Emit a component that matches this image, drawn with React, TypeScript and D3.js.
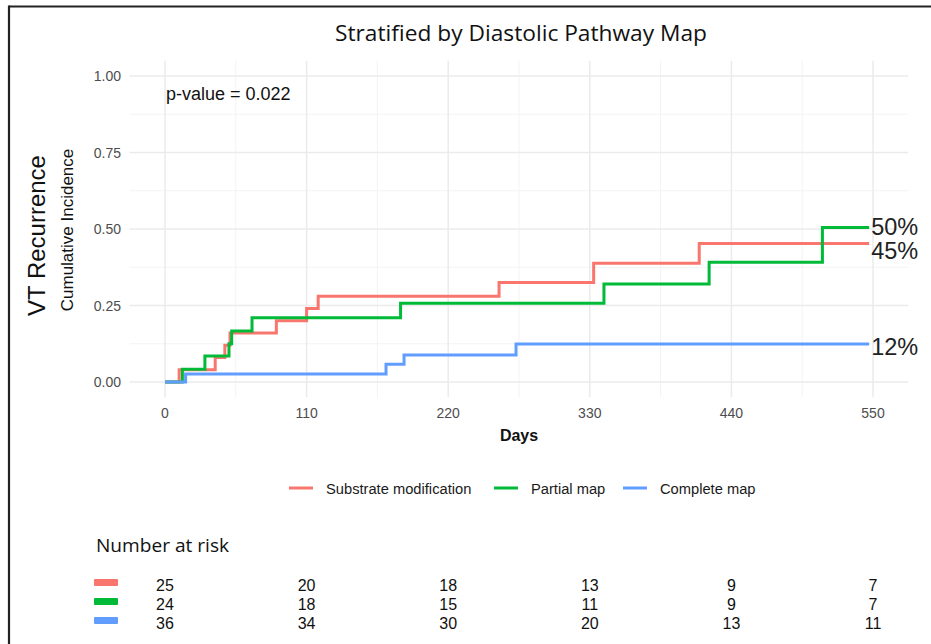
import React from 'react';
import * as d3 from 'd3';

const groups = ['Substrate modification', 'Partial map', 'Complete map'];
const colors = ['#F8766D', '#00BA38', '#619CFF'];

// step times (days) and cumulative incidence after each step
const redTimes = [0, 11, 39, 46.5, 50.5, 86.5, 110, 119, 259.5, 333, 415];
const redValues = [0, 0.04, 0.08, 0.12, 0.16, 0.2, 0.24, 0.28, 0.325, 0.388, 0.453];
const greenTimes = [0, 13.5, 31, 49.7, 51.8, 67.6, 183, 341, 422.7, 510.7];
const greenValues = [0, 0.042, 0.085, 0.125, 0.167, 0.21, 0.257, 0.32, 0.391, 0.505];
const blueTimes = [0, 16, 171.7, 185.7, 272.7];
const blueValues = [0, 0.026, 0.058, 0.088, 0.124];
const lastTime = 547;

const endLabels = ['45%', '50%', '12%'];
const endLabelY = [0.431, 0.508, 0.115];

const xTicks = [0, 110, 220, 330, 440, 550];
const yTicks = [0, 0.25, 0.5, 0.75, 1];
const riskRed = [25, 20, 18, 13, 9, 7];
const riskGreen = [24, 18, 15, 11, 9, 7];
const riskBlue = [36, 34, 30, 20, 13, 11];

const W = 931;
const H = 644;

export default function App() {
  const x = d3.scaleLinear().domain([-27.5, 577.5]).range([129.6, 908.4]);
  const y = d3.scaleLinear().domain([-0.05, 1.05]).range([397.3, 60.7]);

  const series = [
    { t: redTimes, v: redValues },
    { t: greenTimes, v: greenValues },
    { t: blueTimes, v: blueValues },
  ];
  const risk = [riskRed, riskGreen, riskBlue];

  const line = d3
    .line<[number, number]>()
    .x((d) => x(d[0]))
    .y((d) => y(d[1]))
    .curve(d3.curveStepAfter);

  const xMinor = xTicks.slice(0, -1).map((d, i) => (d + xTicks[i + 1]) / 2);
  const yMinor = yTicks.slice(0, -1).map((d, i) => (d + yTicks[i + 1]) / 2);
  const [x0, x1] = x.range();
  const [y0, y1] = y.range();

  const sans = 'Liberation Sans, Arial, sans-serif';
  const title = 'Open Sans, sans-serif';

  return (
    <svg
      width={W}
      height={H}
      style={{ position: 'absolute', left: 0, top: 0, background: '#fff' }}
      fontFamily={sans}
    >
      {/* frame edges of the screenshot */}
      <line x1={9} x2={W} y1={6.5} y2={6.5} stroke="#222" strokeWidth={2.2} />
      <line x1={9} x2={9} y1={5.4} y2={H} stroke="#222" strokeWidth={2.2} />

      <text
        x={335}
        y={41}
        fontFamily={title}
        fontSize={21.5}
        textLength={372}
        lengthAdjust="spacingAndGlyphs"
        fill="#111"
      >
        Stratified by Diastolic Pathway Map
      </text>

      {/* grid */}
      <g>
        {yMinor.map((d) => (
          <line key={'ym' + d} x1={x0} x2={x1} y1={y(d)} y2={y(d)} stroke="#f3f3f3" strokeWidth={1} />
        ))}
        {xMinor.map((d) => (
          <line key={'xm' + d} x1={x(d)} x2={x(d)} y1={y0} y2={y1} stroke="#f3f3f3" strokeWidth={1} />
        ))}
        {yTicks.map((d) => (
          <line key={'y' + d} x1={x0} x2={x1} y1={y(d)} y2={y(d)} stroke="#ebebeb" strokeWidth={1.5} />
        ))}
        {xTicks.map((d) => (
          <line key={'x' + d} x1={x(d)} x2={x(d)} y1={y0} y2={y1} stroke="#ebebeb" strokeWidth={1.5} />
        ))}
      </g>

      {/* axes text */}
      {yTicks.map((d) => (
        <text key={'yl' + d} x={121} y={y(d) + 5} textAnchor="end" fontSize={14} fill="#4d4d4d">
          {d.toFixed(2)}
        </text>
      ))}
      {xTicks.map((d) => (
        <text key={'xl' + d} x={x(d)} y={418} textAnchor="middle" fontSize={14} fill="#4d4d4d">
          {d}
        </text>
      ))}
      <text x={519} y={441} textAnchor="middle" fontSize={16} fontWeight="bold" fill="#111">
        Days
      </text>
      <text transform="translate(45,235.5) rotate(-90)" textAnchor="middle" fontSize={24} fill="#111">
        VT Recurrence
      </text>
      <text transform="translate(73,230) rotate(-90)" textAnchor="middle" fontSize={17} fill="#111">
        Cumulative Incidence
      </text>

      <text x={166} y={99.5} fontSize={18} fill="#111">
        p-value = 0.022
      </text>

      {/* curves */}
      {series.map((s, i) => {
        const pts: [number, number][] = s.t.map((t, j) => [t, s.v[j]]);
        pts.push([lastTime, s.v[s.v.length - 1]]);
        return (
          <path key={groups[i]} d={line(pts) || ''} fill="none" stroke={colors[i]} strokeWidth={3} />
        );
      })}

      {endLabels.map((l, i) => (
        <text key={l} x={x(lastTime) + 2} y={y(endLabelY[i]) + 8.5} fontSize={23.5} fill="#222">
          {l}
        </text>
      ))}

      {/* legend */}
      {groups.map((g, i) => {
        const lx = [289, 494, 623][i];
        return (
          <g key={'lg' + g}>
            <line x1={lx} x2={lx + 24} y1={488} y2={488} stroke={colors[i]} strokeWidth={3} />
            <text x={lx + 37} y={493.5} fontSize={14.7} fill="#1a1a1a">
              {g}
            </text>
          </g>
        );
      })}

      {/* risk table */}
      <text
        x={96}
        y={552}
        fontFamily={title}
        fontSize={19}
        textLength={133}
        lengthAdjust="spacingAndGlyphs"
        fill="#111"
      >
        Number at risk
      </text>
      {risk.map((row, i) => (
        <g key={'r' + i}>
          <rect x={94} y={579 + i * 19} width={24} height={7} rx={1} fill={colors[i]} />
          {row.map((n, j) => (
            <text key={j} x={x(xTicks[j])} y={591 + i * 19} textAnchor="middle" fontSize={16} fill="#111">
              {n}
            </text>
          ))}
        </g>
      ))}
    </svg>
  );
}
